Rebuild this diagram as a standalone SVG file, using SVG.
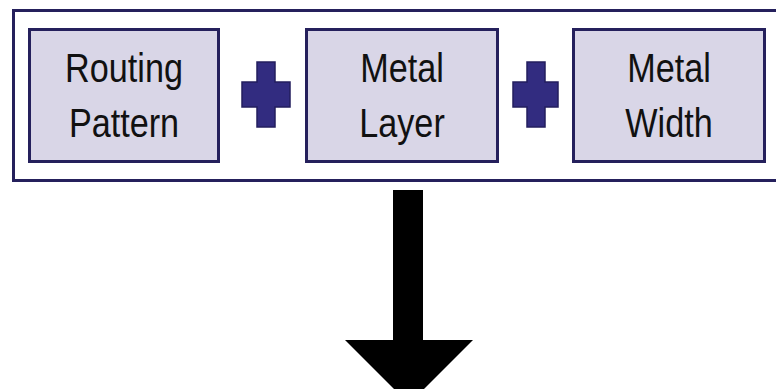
<svg xmlns="http://www.w3.org/2000/svg" width="776" height="389" viewBox="0 0 776 389">
  <style>
    .frame { fill: #ffffff; stroke: #25205c; stroke-width: 3; }
    .box { fill: #d9d6e7; stroke: #25205c; stroke-width: 3; }
    .plus { fill: #322c80; stroke: #231e5e; stroke-width: 1.5; }
    .label { font-family: "Liberation Sans", Arial, sans-serif; font-size: 40px; fill: #111111; text-anchor: middle; }
  </style>
  <rect width="776" height="389" fill="#ffffff"/>

  <!-- outer container -->
  <rect class="frame" x="13.5" y="10.5" width="770" height="170"/>

  <g id="routing-pattern">
    <rect class="box" x="29.5" y="29.5" width="189" height="132"/>
    <text class="label" transform="translate(124 82) scale(0.855 1)">Routing</text>
    <text class="label" transform="translate(124 137) scale(0.855 1)">Pattern</text>
  </g>

  <g id="plus-1">
    <path class="plus" d="M257 62 H275 V82 H290 V107 H275 V127 H257 V107 H242 V82 H257 Z"/>
  </g>

  <g id="metal-layer">
    <rect class="box" x="306.5" y="29.5" width="191" height="132"/>
    <text class="label" transform="translate(402 82) scale(0.855 1)">Metal</text>
    <text class="label" transform="translate(402 137) scale(0.855 1)">Layer</text>
  </g>

  <g id="plus-2">
    <path class="plus" d="M527 62 H545 V82 H558 V107 H545 V127 H527 V107 H513 V82 H527 Z"/>
  </g>

  <g id="metal-width">
    <rect class="box" x="573.5" y="29.5" width="191" height="132"/>
    <text class="label" transform="translate(669 82) scale(0.855 1)">Metal</text>
    <text class="label" transform="translate(669 137) scale(0.855 1)">Width</text>
  </g>

  <g id="connectors">
    <path d="M393 190 H423 V340 H473 L409 404 L345 340 H393 Z" fill="#000000"/>
  </g>
</svg>
